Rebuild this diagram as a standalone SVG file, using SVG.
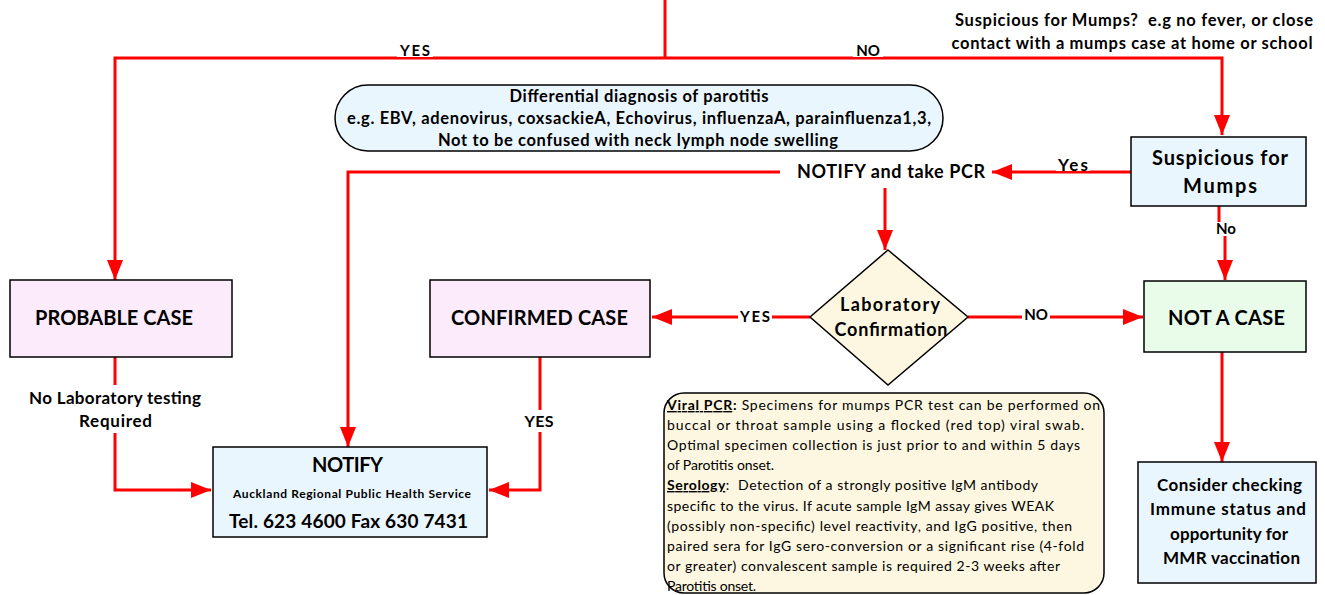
<svg xmlns="http://www.w3.org/2000/svg" width="1325" height="595" viewBox="0 0 1325 595">
<style>
  text { font-family: Lato, "Liberation Sans", sans-serif; fill: #000; }
  .b { font-weight: bold; }
  .m { text-anchor: middle; }
  .box { stroke: #000; stroke-width: 1.5; }
  .blue { fill: #eaf6fd; }
  .pink { fill: #fcecfb; }
  .green { fill: #e9fbe9; }
  .cream { fill: #fdf7e1; }
  .conn { fill: none; stroke: #ff0000; stroke-width: 3; }
  .arr { marker-end: url(#ah); }
  .lbl { font-weight: bold; font-size: 15px; text-anchor: middle; }
  .bg { fill: #fff; }
  .t20 { font-weight: bold; font-size: 20px; text-anchor: middle; }
  .small { font-size: 14px; }
</style>
<defs>
  <marker id="ah" markerUnits="userSpaceOnUse" markerWidth="22" markerHeight="18" refX="20" refY="8" orient="auto">
    <path d="M0,0 L20,8 L0,16 z" fill="#ff0000"/>
  </marker>
</defs>

<g id="connectors">
  <path class="conn" d="M665,0 V58"/>
  <path class="conn arr" d="M665,58 H115 V280"/>
  <path class="conn arr" d="M665,58 H1222 V135"/>
  <path class="conn arr" d="M1131,172 H992"/>
  <path class="conn arr" d="M780,172 H348 V447"/>
  <path class="conn arr" d="M885,188 V250"/>
  <path class="conn arr" d="M810,317 H652"/>
  <path class="conn arr" d="M968,317 H1143"/>
  <path class="conn" d="M1219,206 V222"/>
  <path class="conn arr" d="M1225,236 V280"/>
  <path class="conn arr" d="M115,357 V490 H211"/>
  <path class="conn arr" d="M540,357 V490 H489"/>
  <path class="conn arr" d="M1222,352 V462"/>
  <!-- labels -->
  <rect class="bg" x="397" y="42" width="36" height="15"/>
  <text class="lbl" x="415" y="56" textLength="30">YES</text>
  <rect class="bg" x="853" y="42" width="30" height="15"/>
  <text class="lbl" x="868" y="56">NO</text>
  <rect class="bg" x="1056" y="155" width="34" height="16"/>
  <text class="lbl" x="1073" y="171" style="font-size:17px" textLength="30">Yes</text>
  <rect class="bg" x="738" y="308" width="34" height="15"/>
  <text class="lbl" x="755" y="322" textLength="30">YES</text>
  <rect class="bg" x="1022" y="306" width="28" height="15"/>
  <text class="lbl" x="1036" y="320">NO</text>
  <text class="lbl" x="1226" y="234">No</text>
  <rect class="bg" x="25" y="385" width="180" height="48"/>
  <text class="lbl" x="115" y="404" style="font-size:17px" textLength="172">No Laboratory testing</text>
  <text class="lbl" x="115.5" y="427" style="font-size:17px" textLength="73">Required</text>
  <rect class="bg" x="520" y="410" width="40" height="22"/>
  <text class="lbl" x="539" y="427" style="font-size:16px" textLength="29">YES</text>
</g>

<g id="top-label">
  <text class="b m" x="1134" y="26" style="font-size:16.5px" textLength="358">Suspicious for Mumps?&#160; e.g no fever, or close</text>
  <text class="b m" x="1132" y="49" style="font-size:16.5px" textLength="361">contact with a mumps case at home or school</text>
</g>

<g id="differential">
  <rect class="box blue" x="335" y="85" width="608" height="66" rx="33" ry="33"/>
  <text class="b m" x="639" y="102" style="font-size:16.5px" textLength="259">Differential diagnosis of parotitis</text>
  <text class="b m" x="639" y="124" style="font-size:16.5px" textLength="584">e.g. EBV, adenovirus, coxsackieA, Echovirus, influenzaA, parainfluenza1,3,</text>
  <text class="b m" x="638" y="146" style="font-size:16.5px" textLength="400">Not to be confused with neck lymph node swelling</text>
</g>

<g id="suspicious">
  <rect class="box blue" x="1131" y="137" width="175" height="69"/>
  <text class="t20" x="1220" y="165" textLength="136">Suspicious for</text>
  <text class="t20" x="1220" y="193" textLength="74">Mumps</text>
</g>

<g id="notify-pcr">
  <text class="b m" x="891" y="178" style="font-size:18px" textLength="188">NOTIFY and take PCR</text>
</g>

<g id="lab-confirmation">
  <polygon class="box cream" points="888,250 968,317 888,385 810,317"/>
  <text class="b m" x="890" y="311" style="font-size:18px" textLength="100">Laboratory</text>
  <text class="b m" x="891" y="336" style="font-size:18px" textLength="113">Confirmation</text>
</g>

<g id="probable">
  <rect class="box pink" x="10" y="280" width="222" height="77"/>
  <text class="t20" x="114" y="325" textLength="158">PROBABLE CASE</text>
</g>

<g id="confirmed">
  <rect class="box pink" x="430" y="280" width="220" height="77"/>
  <text class="t20" x="539.5" y="325" textLength="177">CONFIRMED CASE</text>
</g>

<g id="not-a-case">
  <rect class="box green" x="1144" y="281" width="162" height="71"/>
  <text class="t20" x="1226.5" y="325" textLength="117">NOT A CASE</text>
</g>

<g id="notify">
  <rect class="box blue" x="213" y="447" width="274" height="90"/>
  <text class="t20" x="347.5" y="472" textLength="71">NOTIFY</text>
  <text class="b m" x="352" y="498" style="font-size:12px" textLength="238">Auckland Regional Public Health Service</text>
  <text class="b m" x="348.5" y="528" style="font-size:19px" textLength="239">Tel. 623 4600 Fax 630 7431</text>
</g>

<g id="consider">
  <rect class="box blue" x="1138" y="462" width="178" height="121"/>
  <text class="b m" x="1229.5" y="491" style="font-size:17px" textLength="145">Consider checking</text>
  <text class="b m" x="1228" y="515" style="font-size:17px" textLength="156">Immune status and</text>
  <text class="b m" x="1229" y="540" style="font-size:17px" textLength="118">opportunity for</text>
  <text class="b m" x="1231.5" y="564" style="font-size:17px" textLength="137">MMR vaccination</text>
</g>

<g id="lab-info">
  <rect class="box cream" x="664" y="393" width="440" height="200" rx="20" ry="20"/>
  <text class="small" x="667" y="410" textLength="433"><tspan class="b" text-decoration="underline">Viral PCR</tspan><tspan class="b">:</tspan> Specimens for mumps PCR test can be performed on</text>
  <text class="small" x="667" y="430" textLength="417">buccal or throat sample using a flocked (red top) viral swab.</text>
  <text class="small" x="667" y="450" textLength="413">Optimal specimen collection is just prior to and within 5 days</text>
  <text class="small" x="667" y="470" textLength="107">of Parotitis onset.</text>
  <text class="small" x="667" y="490" textLength="371"><tspan class="b" text-decoration="underline">Serology</tspan>:&#160; Detection of a strongly positive IgM antibody</text>
  <text class="small" x="667" y="511" textLength="387">specific to the virus. If acute sample IgM assay gives WEAK</text>
  <text class="small" x="667" y="531" textLength="405">(possibly non-specific) level reactivity, and IgG positive, then</text>
  <text class="small" x="667" y="551" textLength="417">paired sera for IgG sero-conversion or a significant rise (4-fold</text>
  <text class="small" x="667" y="571" textLength="393">or greater) convalescent sample is required 2-3 weeks after</text>
  <text class="small" x="667" y="591" textLength="89">Parotitis onset.</text>
</g>
</svg>
